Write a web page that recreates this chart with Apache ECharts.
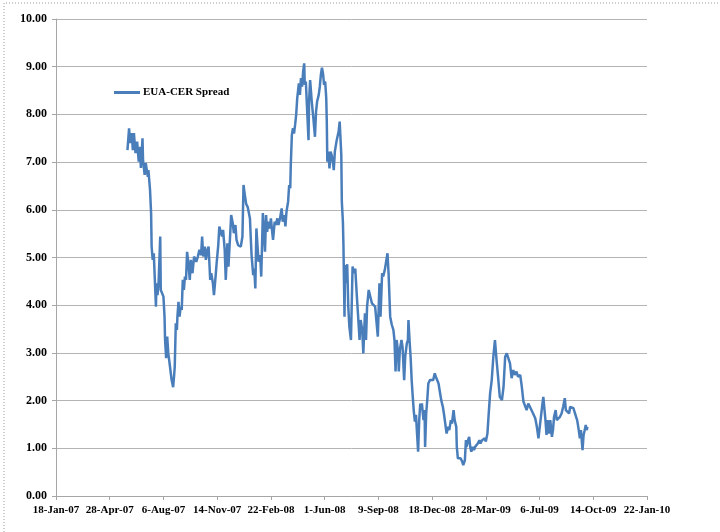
<!DOCTYPE html>
<html>
<head>
<meta charset="utf-8">
<title>EUA-CER Spread</title>
<script src="https://cdn.jsdelivr.net/npm/echarts@6/dist/echarts.min.js"></script>
<style>
  html, body { margin: 0; padding: 0; background: #ffffff; }
  #chart { width: 720px; height: 532px; }
</style>
</head>
<body>
<div id="chart"></div>
<script>
// EUA-CER spread, EUR/t
const seriesName = 'EUA-CER Spread';

const dates = [
  '2007-05-31','2007-06-03','2007-06-05','2007-06-08','2007-06-10','2007-06-12','2007-06-15','2007-06-18','2007-06-21','2007-06-23',
  '2007-06-25','2007-06-28','2007-06-29','2007-07-02','2007-07-04','2007-07-08','2007-07-09','2007-07-12','2007-07-14','2007-07-15',
  '2007-07-17','2007-07-19','2007-07-21','2007-07-23','2007-07-24','2007-07-26','2007-07-28','2007-07-31','2007-08-01','2007-08-04',
  '2007-08-06','2007-08-08','2007-08-09','2007-08-11','2007-08-13','2007-08-15','2007-08-17','2007-08-19','2007-08-21','2007-08-24',
  '2007-08-26','2007-08-27','2007-08-29','2007-08-31','2007-09-01','2007-09-03','2007-09-05','2007-09-07','2007-09-09','2007-09-11',
  '2007-09-13','2007-09-15','2007-09-17','2007-09-19','2007-09-22','2007-09-24','2007-09-26','2007-09-29','2007-10-02','2007-10-06',
  '2007-10-09','2007-10-12','2007-10-15','2007-10-17','2007-10-19','2007-10-22','2007-10-24','2007-10-27','2007-10-29','2007-11-01',
  '2007-11-03','2007-11-06','2007-11-08','2007-11-11','2007-11-13','2007-11-16','2007-11-18','2007-11-21','2007-11-23','2007-11-25',
  '2007-11-28','2007-11-30','2007-12-03','2007-12-05','2007-12-08','2007-12-10','2007-12-13','2007-12-15','2007-12-18','2007-12-20',
  '2007-12-23','2007-12-28','2007-12-31','2008-01-02','2008-01-04','2008-01-07','2008-01-10','2008-01-14','2008-01-15','2008-01-17',
  '2008-01-20','2008-01-22','2008-01-24','2008-01-26','2008-01-28','2008-01-30','2008-02-02','2008-02-04','2008-02-07','2008-02-09',
  '2008-02-11','2008-02-13','2008-02-15','2008-02-17','2008-02-20','2008-02-22','2008-02-24','2008-02-26','2008-02-29','2008-03-02',
  '2008-03-05','2008-03-07','2008-03-10','2008-03-13','2008-03-15','2008-03-18','2008-03-20','2008-03-22','2008-03-25','2008-03-27',
  '2008-03-29','2008-03-30','2008-04-01','2008-04-03','2008-04-05','2008-04-07','2008-04-09','2008-04-11','2008-04-12','2008-04-14',
  '2008-04-16','2008-04-18','2008-04-20','2008-04-22','2008-04-24','2008-04-25','2008-04-27','2008-04-29','2008-05-02','2008-05-03',
  '2008-05-05','2008-05-08','2008-05-11','2008-05-14','2008-05-16','2008-05-18','2008-05-21','2008-05-23','2008-05-25','2008-05-27',
  '2008-05-29','2008-05-31','2008-06-02','2008-06-04','2008-06-05','2008-06-06','2008-06-08','2008-06-10','2008-06-12','2008-06-14',
  '2008-06-17','2008-06-18','2008-06-20','2008-06-23','2008-06-25','2008-06-27','2008-06-29','2008-07-01','2008-07-02','2008-07-03',
  '2008-07-05','2008-07-06','2008-07-08','2008-07-09','2008-07-11','2008-07-13','2008-07-15','2008-07-17','2008-07-20','2008-07-22',
  '2008-07-23','2008-07-26','2008-07-28','2008-07-31','2008-08-02','2008-08-05','2008-08-07','2008-08-10','2008-08-12','2008-08-15',
  '2008-08-17','2008-08-19','2008-08-22','2008-08-24','2008-08-28','2008-08-31','2008-09-03','2008-09-06','2008-09-08','2008-09-11',
  '2008-09-13','2008-09-16','2008-09-18','2008-09-21','2008-09-23','2008-09-26','2008-09-28','2008-10-01','2008-10-04','2008-10-07',
  '2008-10-09','2008-10-11','2008-10-13','2008-10-16','2008-10-17','2008-10-19','2008-10-22','2008-10-24','2008-10-27','2008-10-29',
  '2008-11-01','2008-11-03','2008-11-04','2008-11-06','2008-11-08','2008-11-10','2008-11-12','2008-11-14','2008-11-16','2008-11-18',
  '2008-11-20','2008-11-22','2008-11-24','2008-11-26','2008-11-27','2008-11-29','2008-12-02','2008-12-04','2008-12-05','2008-12-07',
  '2008-12-09','2008-12-11','2008-12-14','2008-12-17','2008-12-20','2008-12-23','2008-12-25','2008-12-28','2008-12-30','2009-01-02',
  '2009-01-04','2009-01-07','2009-01-09','2009-01-12','2009-01-14','2009-01-17','2009-01-19','2009-01-22','2009-01-24','2009-01-27',
  '2009-01-29','2009-02-01','2009-02-02','2009-02-04','2009-02-07','2009-02-09','2009-02-12','2009-02-14','2009-02-17','2009-02-19',
  '2009-02-20','2009-02-23','2009-02-25','2009-02-27','2009-03-01','2009-03-04','2009-03-06','2009-03-08','2009-03-11','2009-03-13',
  '2009-03-16','2009-03-18','2009-03-21','2009-03-23','2009-03-26','2009-03-28','2009-03-31','2009-04-02','2009-04-05','2009-04-08',
  '2009-04-11','2009-04-14','2009-04-17','2009-04-20','2009-04-23','2009-04-27','2009-04-30','2009-05-03','2009-05-06','2009-05-09',
  '2009-05-12','2009-05-15','2009-05-18','2009-05-21','2009-05-24','2009-05-27','2009-05-31','2009-06-03','2009-06-06','2009-06-09',
  '2009-06-12','2009-06-15','2009-06-18','2009-06-21','2009-06-24','2009-06-28','2009-07-01','2009-07-04','2009-07-07','2009-07-10',
  '2009-07-13','2009-07-15','2009-07-17','2009-07-19','2009-07-21','2009-07-24','2009-07-26','2009-07-29','2009-07-31','2009-08-02',
  '2009-08-05','2009-08-07','2009-08-10','2009-08-13','2009-08-16','2009-08-19','2009-08-22','2009-08-24','2009-08-27','2009-08-30',
  '2009-09-01','2009-09-04','2009-09-07','2009-09-09','2009-09-12','2009-09-14','2009-09-17','2009-09-19','2009-09-21','2009-09-22',
  '2009-09-24','2009-09-26','2009-09-28','2009-09-30','2009-10-02','2009-10-03'
];

const spread = [
  7.25,7.71,7.40,7.61,7.25,7.61,7.19,7.43,7.01,7.32,
  6.88,7.50,7.04,6.73,6.98,6.69,6.83,6.42,5.93,5.23,
  4.95,5.09,4.53,3.97,4.46,4.21,4.49,5.44,4.32,4.28,
  4.18,3.76,3.27,2.89,3.34,2.99,2.82,2.78,2.45,2.28,
  2.55,2.71,3.62,3.48,3.76,4.07,3.76,3.97,3.90,4.53,
  4.32,4.60,4.53,5.12,4.81,4.53,4.95,4.67,5.02,4.91,
  5.02,5.16,5.05,5.44,5.02,5.23,4.95,5.16,5.23,4.53,
  4.67,4.46,4.21,4.60,4.88,5.26,5.65,5.68,5.44,5.58,
  5.16,4.53,5.30,4.81,5.44,5.89,5.72,5.51,5.68,5.37,
  5.26,5.23,5.44,6.52,6.35,6.12,6.05,5.82,5.54,5.05,
  4.63,4.77,4.35,5.61,5.26,4.91,5.05,4.60,5.93,5.54,
  5.12,5.89,5.54,5.75,5.61,5.82,5.58,5.37,5.75,5.68,
  5.82,5.68,5.82,6.03,5.75,5.89,5.65,5.96,6.17,6.52,
  6.45,6.94,7.57,7.71,7.60,7.78,7.99,8.34,8.44,8.65,
  8.41,8.76,8.58,8.90,9.07,8.62,8.69,8.20,7.46,8.27,
  8.72,8.27,7.92,7.53,8.06,8.27,8.41,8.58,8.83,8.98,
  8.86,8.62,8.69,8.34,7.85,7.01,7.22,6.87,7.22,7.15,
  6.94,6.83,7.22,7.43,7.46,7.64,7.85,7.88,7.15,6.17,
  5.75,5.26,3.76,4.84,4.46,4.86,3.97,3.55,3.27,3.24,
  4.81,4.67,4.77,4.18,3.83,3.27,3.69,3.48,2.99,3.83,
  3.27,3.97,4.32,4.32,4.04,4.07,3.97,3.97,3.34,4.46,
  3.76,4.67,4.60,4.74,4.88,5.09,4.67,3.76,3.59,3.48,
  3.27,2.61,3.27,2.99,2.61,3.06,3.27,3.13,2.43,2.92,
  3.20,3.27,3.69,3.27,2.92,2.43,2.08,1.77,1.56,1.70,
  1.31,0.93,1.59,1.94,1.80,1.94,1.59,1.80,1.03,1.73,
  2.01,2.36,2.43,2.40,2.43,2.57,2.50,2.50,2.36,2.15,
  2.01,1.87,1.73,1.73,1.31,1.45,1.38,1.59,1.52,1.80,
  1.59,1.45,1.03,0.79,0.82,0.79,0.72,0.65,0.75,1.17,
  1.03,1.17,1.24,1.03,0.93,1.03,0.96,1.03,1.07,1.10,
  1.17,1.10,1.17,1.14,1.21,1.14,1.31,1.66,2.15,2.43,
  2.92,3.27,2.85,2.47,2.08,2.01,2.29,2.92,2.99,2.99,
  2.78,2.47,2.64,2.54,2.61,2.50,2.54,2.29,1.98,1.94,
  1.80,1.94,1.87,1.91,1.73,1.63,1.45,1.21,1.24,1.80,
  2.08,2.12,1.59,1.28,1.59,1.31,1.59,1.24,1.38,1.66,
  1.80,1.59,1.56,1.66,1.73,1.87,2.05,1.80,1.84,1.73,
  1.87,1.91,1.84,1.80,1.66,1.59,1.38,1.21,1.38,1.24,
  0.96,1.28,1.38,1.49,1.38,1.45
];

// Horizontal axis runs on spreadsheet date serials (days since 1899-12-30),
// from 18-Jan-07 (39100) to 22-Jan-10 (40200) in 100-day steps.
const xAxisStart = 39100;
const xAxisEnd = 40200;
const xAxisStep = 100;
const yAxisMin = 0;
const yAxisMax = 10;
const yAxisStep = 1;

const MONTHS = ['Jan','Feb','Mar','Apr','May','Jun','Jul','Aug','Sep','Oct','Nov','Dec'];
const EPOCH = Date.UTC(1899, 11, 30);
const DAY = 86400000;

function toSerial(s) {
  const [y, m, d] = s.split('-').map(Number);
  return Math.round((Date.UTC(y, m - 1, d) - EPOCH) / DAY);
}
function serialLabel(v) {
  const dt = new Date(EPOCH + Math.round(v) * DAY);
  return dt.getUTCDate() + '-' + MONTHS[dt.getUTCMonth()] + '-' + String(dt.getUTCFullYear()).slice(2);
}

const points = dates.map((d, i) => [toSerial(d), spread[i]]);

const FONT = 'Liberation Serif';
const AXIS_GRAY = '#a6a6a6';
const LINE_BLUE = '#4a7ebb';

const chart = echarts.init(document.getElementById('chart'), null, { renderer: 'canvas' });

chart.setOption({
  animation: false,
  backgroundColor: '#ffffff',
  grid: { left: 56, right: 73, top: 19, bottom: 36 },
  legend: {
    left: 109,
    top: 82,
    itemWidth: 26,
    itemHeight: 3,
    icon: 'rect',
    data: [seriesName],
    textStyle: { fontFamily: FONT, fontWeight: 'bold', fontSize: 11, color: '#000', padding: [0, 0, 0, -2] }
  },
  xAxis: {
    type: 'value',
    min: xAxisStart,
    max: xAxisEnd,
    interval: xAxisStep,
    splitLine: { show: false },
    axisLine: { show: true, lineStyle: { color: AXIS_GRAY, width: 1 } },
    axisTick: { show: true, length: 4, lineStyle: { color: AXIS_GRAY } },
    axisLabel: {
      margin: 9,
      fontFamily: FONT,
      fontWeight: 'bold',
      fontSize: 11,
      color: '#000',
      showMinLabel: true,
      showMaxLabel: true,
      formatter: serialLabel
    }
  },
  yAxis: {
    type: 'value',
    min: yAxisMin,
    max: yAxisMax,
    interval: yAxisStep,
    axisLine: { show: true, lineStyle: { color: AXIS_GRAY, width: 1 } },
    axisTick: { show: true, length: 4, lineStyle: { color: AXIS_GRAY } },
    splitLine: { show: true, lineStyle: { color: '#b4b4b4', width: 1 } },
    axisLabel: {
      margin: 9,
      fontFamily: FONT,
      fontWeight: 'bold',
      fontSize: 12,
      color: '#000',
      formatter: v => v.toFixed(2)
    }
  },
  series: [{
    name: seriesName,
    type: 'line',
    data: points,
    showSymbol: false,
    symbol: 'none',
    lineStyle: { color: LINE_BLUE, width: 2.5 },
    itemStyle: { color: LINE_BLUE }
  }],
  graphic: [
    {
      type: 'polyline',
      silent: true,
      shape: { points: [[4, 532], [4, 3], [720, 3]] },
      style: { stroke: '#9a9a9a', lineWidth: 1, lineDash: [1, 2], fill: null }
    }
  ]
});
</script>
</body>
</html>
